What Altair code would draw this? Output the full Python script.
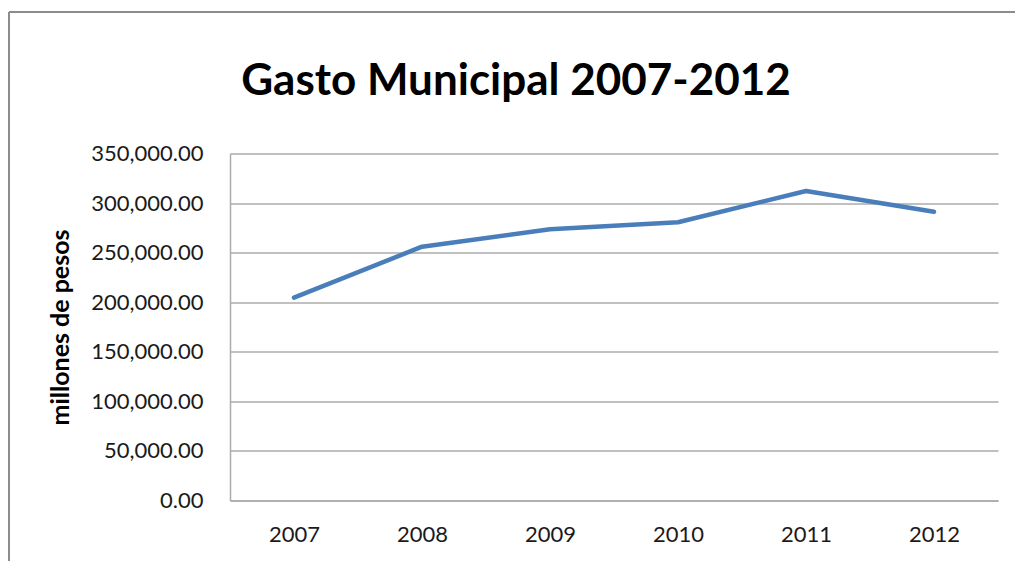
import altair as alt
import pandas as pd

years = ["2007", "2008", "2009", "2010", "2011", "2012"]
gasto = [204600, 256000, 273600, 280600, 312200, 291300]
y_ticks = [0, 50000, 100000, 150000, 200000, 250000, 300000, 350000]
title_text = "Gasto Municipal 2007-2012"

df = pd.DataFrame({"year": years, "gasto": gasto})

FONT = "Lato"
GRID = "#ababab"

line = alt.Chart(df).mark_line(color="#4A7EBB", strokeWidth=4.5, strokeCap="round", strokeJoin="round").encode(
    x=alt.X("year:O", scale=alt.Scale(type="point", padding=0.5),
            axis=alt.Axis(title=None, labelAngle=0, labelFontSize=22, labelFont=FONT,
                          labelColor="#1a1a1a", labelPadding=24, ticks=False,
                          domainColor=GRID, domainWidth=1.5, grid=False)),
    y=alt.Y("gasto:Q", scale=alt.Scale(domain=[0, 350000], nice=False),
            axis=alt.Axis(values=y_ticks, format=",.2f", title="millones de pesos",
                          titleFont=FONT, titleFontSize=25, titleFontWeight="bold",
                          titleColor="#000000", titleX=-170, titleY=173.5,
                          titleAngle=270, titleAlign="center", titleBaseline="middle",
                          labelFontSize=22, labelFont=FONT, labelColor="#1a1a1a",
                          labelPadding=27, ticks=False, domainColor=GRID, domainWidth=1.5,
                          grid=True, gridColor=GRID, gridWidth=1.5)),
)

dummy = pd.DataFrame({"a": [0]})
border_left = alt.Chart(dummy).mark_rule(color="#8c8c8c", strokeWidth=2).encode(
    x=alt.value(-221), y=alt.value(-141.5), y2=alt.value(420)
)
border_top = alt.Chart(dummy).mark_rule(color="#8c8c8c", strokeWidth=2).encode(
    x=alt.value(-221), x2=alt.value(800), y=alt.value(-141.5)
)
title = alt.Chart(dummy).mark_text(
    text=title_text, font=FONT, fontSize=44, fontWeight="bold", color="#000000",
    align="center", baseline="alphabetic"
).encode(x=alt.value(286), y=alt.value(-58.5))

chart = alt.layer(border_left, border_top, title, line).properties(
    width=768,
    height=347,
    autosize=alt.AutoSizeParams(type="none"),
    padding={"left": 230, "top": 153.5, "right": 17, "bottom": 60.5},
    background="white",
).configure_view(stroke=None)

chart.save("out.html", embed_options={"renderer": "svg", "actions": False})
